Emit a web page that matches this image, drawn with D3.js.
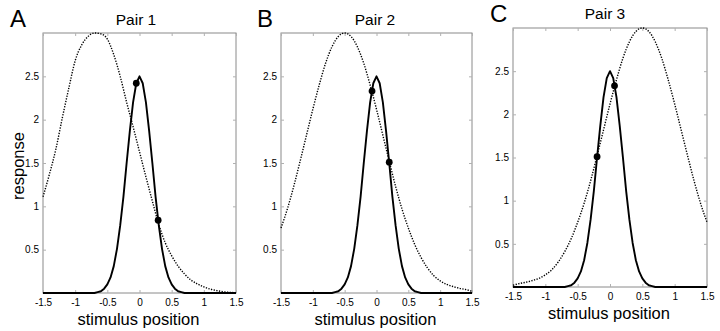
<!DOCTYPE html>
<html>
<head>
<meta charset="utf-8">
<script src="https://cdn.jsdelivr.net/npm/d3@7"></script>
<style>
  body { margin: 0; background: #fff; }
  svg { display: block; font-family: "Liberation Sans", Arial, Helvetica, sans-serif; }
</style>
</head>
<body>
<div id="chart"></div>
<script>
const xGrid = [-1.5, -1.4, -1.3, -1.2, -1.1, -1.0, -0.9, -0.8, -0.7, -0.6, -0.5, -0.4, -0.3, -0.2, -0.1,
               0, 0.1, 0.2, 0.3, 0.4, 0.5, 0.6, 0.7, 0.8, 0.9, 1.0, 1.1, 1.2, 1.3, 1.4, 1.5]

// dotted (broad) tuning curves, one per pair
const dottedA = [1.11, 1.37, 1.66, 2.02, 2.36, 2.68, 2.86, 2.96, 3.0, 2.99, 2.93, 2.75, 2.5, 2.2, 1.92,
                 1.63, 1.34, 1.06, 0.79, 0.58, 0.43, 0.31, 0.22, 0.15, 0.105, 0.07, 0.045, 0.028, 0.015, 0.007, 0.003]
const dottedB = [0.75, 0.97, 1.23, 1.52, 1.82, 2.12, 2.4, 2.65, 2.84, 2.96, 3.0, 2.96, 2.84, 2.65, 2.4,
                 2.12, 1.82, 1.52, 1.23, 0.97, 0.75, 0.56, 0.41, 0.29, 0.2, 0.14, 0.1, 0.075, 0.055, 0.04, 0.02]
const dottedC = [0.02, 0.04, 0.055, 0.075, 0.1, 0.14, 0.2, 0.29, 0.41, 0.56, 0.75, 0.97, 1.23, 1.52, 1.82,
                 2.12, 2.4, 2.65, 2.84, 2.96, 3.0, 2.96, 2.84, 2.65, 2.4, 2.12, 1.82, 1.52, 1.23, 0.97, 0.75]

// solid (narrow) tuning curve, same in every panel
const solidX = [-1.5, -0.7, -0.65, -0.6, -0.55, -0.5, -0.45, -0.4, -0.35, -0.3, -0.25, -0.2, -0.15, -0.1, -0.05,
                0, 0.05, 0.1, 0.15, 0.2, 0.25, 0.3, 0.35, 0.4, 0.45, 0.5, 0.55, 0.6, 0.65, 0.7, 1.5]
const solidY = [0, 0, 0.01, 0.02, 0.05, 0.1, 0.18, 0.31, 0.51, 0.78, 1.11, 1.5, 1.87, 2.2, 2.42,
                2.5, 2.42, 2.2, 1.87, 1.5, 1.11, 0.78, 0.51, 0.31, 0.18, 0.1, 0.05, 0.02, 0.01, 0, 0]

// marked points
const dotXA = [-0.05, 0.29], dotYA = [2.42, 0.84]
const dotXB = [-0.07, 0.2],  dotYB = [2.33, 1.51]
const dotXC = [-0.2, 0.07],  dotYC = [1.51, 2.33]

const letters = ["A", "B", "C"]
const titles = ["Pair 1", "Pair 2", "Pair 3"]
const xTicks = [-1.5, -1, -0.5, 0, 0.5, 1, 1.5]
const yTicks = [0.5, 1, 1.5, 2, 2.5]

const panels = [
  {dotted: dottedA, dx: dotXA, dy: dotYA, left: 43, right: 236, top: 33, bottom: 293, letterX: 10, letterY: 27, titleX: 136, titleY: 25, xlabY: 325},
  {dotted: dottedB, dx: dotXB, dy: dotYB, left: 281, right: 472, top: 33, bottom: 293, letterX: 257, letterY: 27, titleX: 375, titleY: 25, xlabY: 325},
  {dotted: dottedC, dx: dotXC, dy: dotYC, left: 513, right: 707, top: 28, bottom: 287, letterX: 490, letterY: 22, titleX: 605, titleY: 19, xlabY: 319}
]

const svg = d3.select("#chart").append("svg")
    .attr("width", 720)
    .attr("height", 331)

panels.forEach(function(p, i) {
  const x = d3.scaleLinear().domain([-1.5, 1.5]).range([p.left, p.right])
  const y = d3.scaleLinear().domain([0, 3]).range([p.bottom, p.top])
  const g = svg.append("g")

  // box
  g.append("rect")
      .attr("x", p.left).attr("y", p.top)
      .attr("width", p.right - p.left).attr("height", p.bottom - p.top)
      .attr("fill", "none").attr("stroke", "#8a8a8a").attr("stroke-width", 1)

  const fmt = d => String(d)

  // ticks point inward on all four sides
  g.append("g")
      .attr("transform", "translate(0," + p.bottom + ")")
      .call(d3.axisBottom(x).tickValues(xTicks).tickSize(-3).tickPadding(6).tickFormat(fmt))
  g.append("g")
      .attr("transform", "translate(0," + p.top + ")")
      .call(d3.axisTop(x).tickValues(xTicks).tickSize(-3).tickFormat(""))
  g.append("g")
      .attr("transform", "translate(" + p.left + ",0)")
      .call(d3.axisLeft(y).tickValues(yTicks).tickSize(-3).tickPadding(4).tickFormat(fmt))
  g.append("g")
      .attr("transform", "translate(" + p.right + ",0)")
      .call(d3.axisRight(y).tickValues(yTicks).tickSize(-3).tickFormat(""))

  g.selectAll(".domain").remove()
  g.selectAll(".tick line").attr("stroke", "#b0b0b0")
  g.selectAll(".tick text").attr("font-size", "10px").attr("fill", "#000")
      .attr("font-family", "'Liberation Sans', Arial, sans-serif")

  // dotted broad curve
  g.append("path")
      .datum(xGrid.map((v, k) => [v, p.dotted[k]]))
      .attr("fill", "none")
      .attr("stroke", "#000")
      .attr("stroke-width", 1.4)
      .attr("stroke-dasharray", "1.3,1.4")
      .attr("d", d3.line().x(d => x(d[0])).y(d => y(d[1])).curve(d3.curveMonotoneX))

  // solid narrow curve
  g.append("path")
      .datum(solidX.map((v, k) => [v, solidY[k]]))
      .attr("fill", "none")
      .attr("stroke", "#000")
      .attr("stroke-width", 1.9)
      .attr("stroke-linejoin", "round")
      .attr("d", d3.line().x(d => x(d[0])).y(d => y(d[1])))

  g.selectAll("circle.pt")
      .data(p.dx.map((v, k) => [v, p.dy[k]]))
      .enter().append("circle")
      .attr("class", "pt")
      .attr("cx", d => x(d[0]))
      .attr("cy", d => y(d[1]))
      .attr("r", 3.4)
      .attr("fill", "#000")

  svg.append("text")
      .attr("x", p.letterX).attr("y", p.letterY)
      .attr("font-size", "24px")
      .text(letters[i])

  svg.append("text")
      .attr("x", p.titleX).attr("y", p.titleY)
      .attr("text-anchor", "middle")
      .attr("font-size", "15.5px")
      .text(titles[i])

  svg.append("text")
      .attr("x", (p.left + p.right) / 2 - 1).attr("y", p.xlabY)
      .attr("text-anchor", "middle")
      .attr("font-size", "16.5px")
      .text("stimulus position")
})

svg.append("text")
    .attr("transform", "translate(24,166) rotate(-90)")
    .attr("text-anchor", "middle")
    .attr("font-size", "16.5px")
    .text("response")
</script>
</body>
</html>
